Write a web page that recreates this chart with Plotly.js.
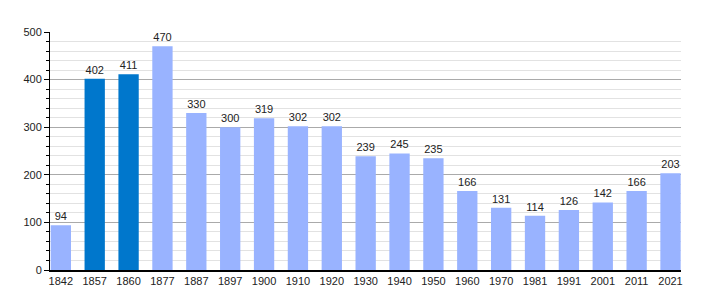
<!DOCTYPE html>
<html>
<head>
<meta charset="utf-8">
<script src="https://cdn.plot.ly/plotly-3.0.1.min.js"></script>
<style>html,body{margin:0;padding:0;background:#fff}#chart{width:710px;height:300px}</style>
</head>
<body>
<div id="chart"></div>
<script>
const years = ["1842","1857","1860","1877","1887","1897","1900","1910","1920","1930","1940","1950","1960","1970","1981","1991","2001","2011","2021"];
const population = [94,402,411,470,330,300,319,302,302,239,245,235,166,131,114,126,142,166,203];
const highlighted = ["1857","1860"];
const colorNormal = "#99b3ff";
const colorHighlight = "#0077cc";

const trace = {
  type: "bar",
  x: years,
  y: population,
  marker: {color: years.map(y => highlighted.includes(y) ? colorHighlight : colorNormal)},
  text: population.map(String),
  textposition: "outside",
  cliponaxis: false,
  textfont: {family: "Liberation Sans, Arial, sans-serif", size: 11, color: "#222"},
  hoverinfo: "none"
};

const layout = {
  width: 710, height: 300,
  margin: {l: 50, r: 29, t: 32, b: 30},
  paper_bgcolor: "#fff", plot_bgcolor: "#fff",
  font: {family: "Liberation Sans, Arial, sans-serif", size: 11, color: "#222"},
  bargap: 0.4,
  showlegend: false,
  xaxis: {
    type: "category",
    range: [-0.32, 18.31],
    showline: true, linecolor: "#000", linewidth: 1.5,
    ticks: "", showgrid: false, zeroline: false,
    tickfont: {size: 11, color: "#222"}
  },
  yaxis: {
    range: [0, 500], dtick: 100, tick0: 0,
    showline: true, linecolor: "#000", linewidth: 1,
    ticks: "outside", ticklen: 5, tickcolor: "#000",
    showgrid: true, gridcolor: "#aaaaaa", gridwidth: 1,
    zeroline: false,
    minor: {dtick: 20, showgrid: true, gridcolor: "#e2e2e2", ticks: "outside", ticklen: 3, tickcolor: "#000"},
    tickfont: {size: 11, color: "#222"}
  }
};

Plotly.newPlot("chart", [trace], layout, {staticPlot: true, displayModeBar: false});
</script>
</body>
</html>
